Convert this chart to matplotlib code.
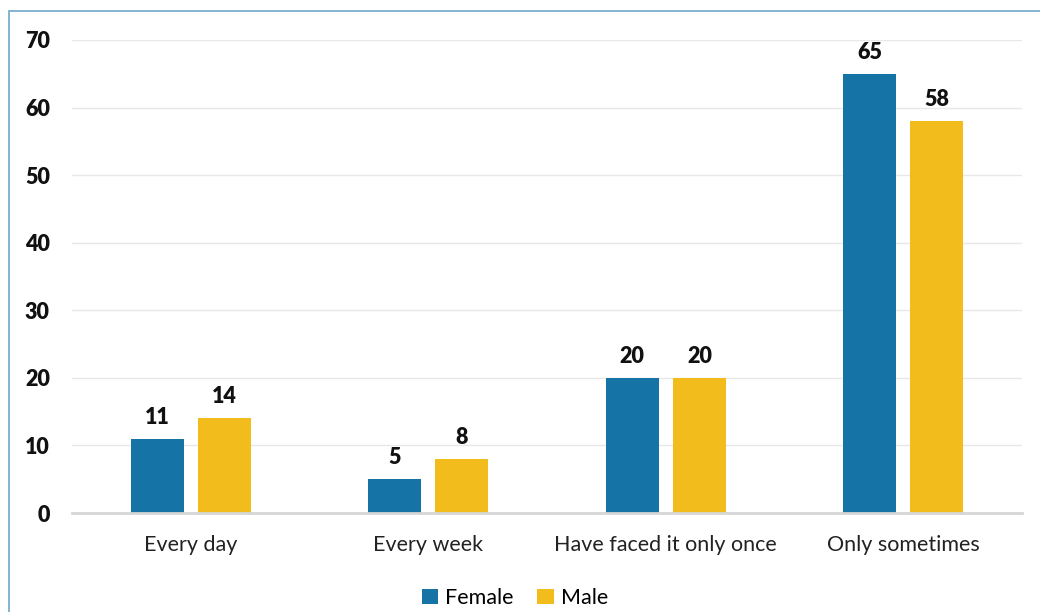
import matplotlib
matplotlib.use("Agg")
import matplotlib.pyplot as plt
import numpy as np
from matplotlib.patches import Rectangle

categories = ["Every day", "Every week", "Have faced it only once", "Only sometimes"]
female = [11, 5, 20, 65]
male = [14, 8, 20, 58]
y_ticks = [0, 10, 20, 30, 40, 50, 60, 70]

BLUE = "#1573A5"
YELLOW = "#F2BC1C"

plt.rcParams["font.family"] = ["Lato", "DejaVu Sans"]

fig = plt.figure(figsize=(10.4, 6.12), dpi=100)
# axes box in pixels: left 72, right 1022, top 40 (y=70), bottom 513 (y=0)
ax = fig.add_axes([72 / 1040, 1 - 513 / 612, 950 / 1040, 473 / 612])

x = np.arange(len(categories))
w = 0.223
off = 0.1415
b1 = ax.bar(x - off, female, w, color=BLUE, label="Female", zorder=3)
b2 = ax.bar(x + off, male, w, color=YELLOW, label="Male", zorder=3)

for bars in (b1, b2):
    for r in bars:
        ax.annotate(f"{r.get_height():g}", (r.get_x() + r.get_width() / 2, r.get_height()),
                    xytext=(0, 8), textcoords="offset points", ha="center", va="bottom",
                    fontsize=15.5, fontweight="heavy", color="#111111")

ax.set_xlim(-0.5, len(categories) - 0.5)
ax.set_ylim(0, 70)
ax.set_yticks(y_ticks)
ax.set_yticklabels([str(t) for t in y_ticks], fontsize=15.5, fontweight="heavy", color="#111111")
ax.set_xticks(x)
ax.set_xticklabels(categories, fontsize=15.5, color="#222222")
ax.tick_params(axis="y", length=0, pad=16)
ax.tick_params(axis="x", length=0, pad=16)
ax.grid(axis="y", color="#E8E8E8", linewidth=1, zorder=0)
for s in ("top", "right", "left"):
    ax.spines[s].set_visible(False)
ax.spines["bottom"].set_color("#D6D6D6")
ax.spines["bottom"].set_linewidth(2)
ax.spines["bottom"].set_zorder(4)

fig.legend(handles=[b1, b2], labels=["Female", "Male"], loc="center",
           bbox_to_anchor=(515 / 1040, 1 - 598 / 612), ncol=2, frameon=False,
           fontsize=15.5, handlelength=0.75, handleheight=0.75, handletextpad=0.35,
           columnspacing=1.1, borderaxespad=0)

# outer border of the chart frame (left and top edges visible)
fig.patches.append(Rectangle((9 / 1040, -0.1), 1.2, 1 - 11 / 612 + 0.1,
                             transform=fig.transFigure, fill=False,
                             edgecolor="#6FA8C8", linewidth=1.2))

fig.savefig("out.png", dpi=100)
